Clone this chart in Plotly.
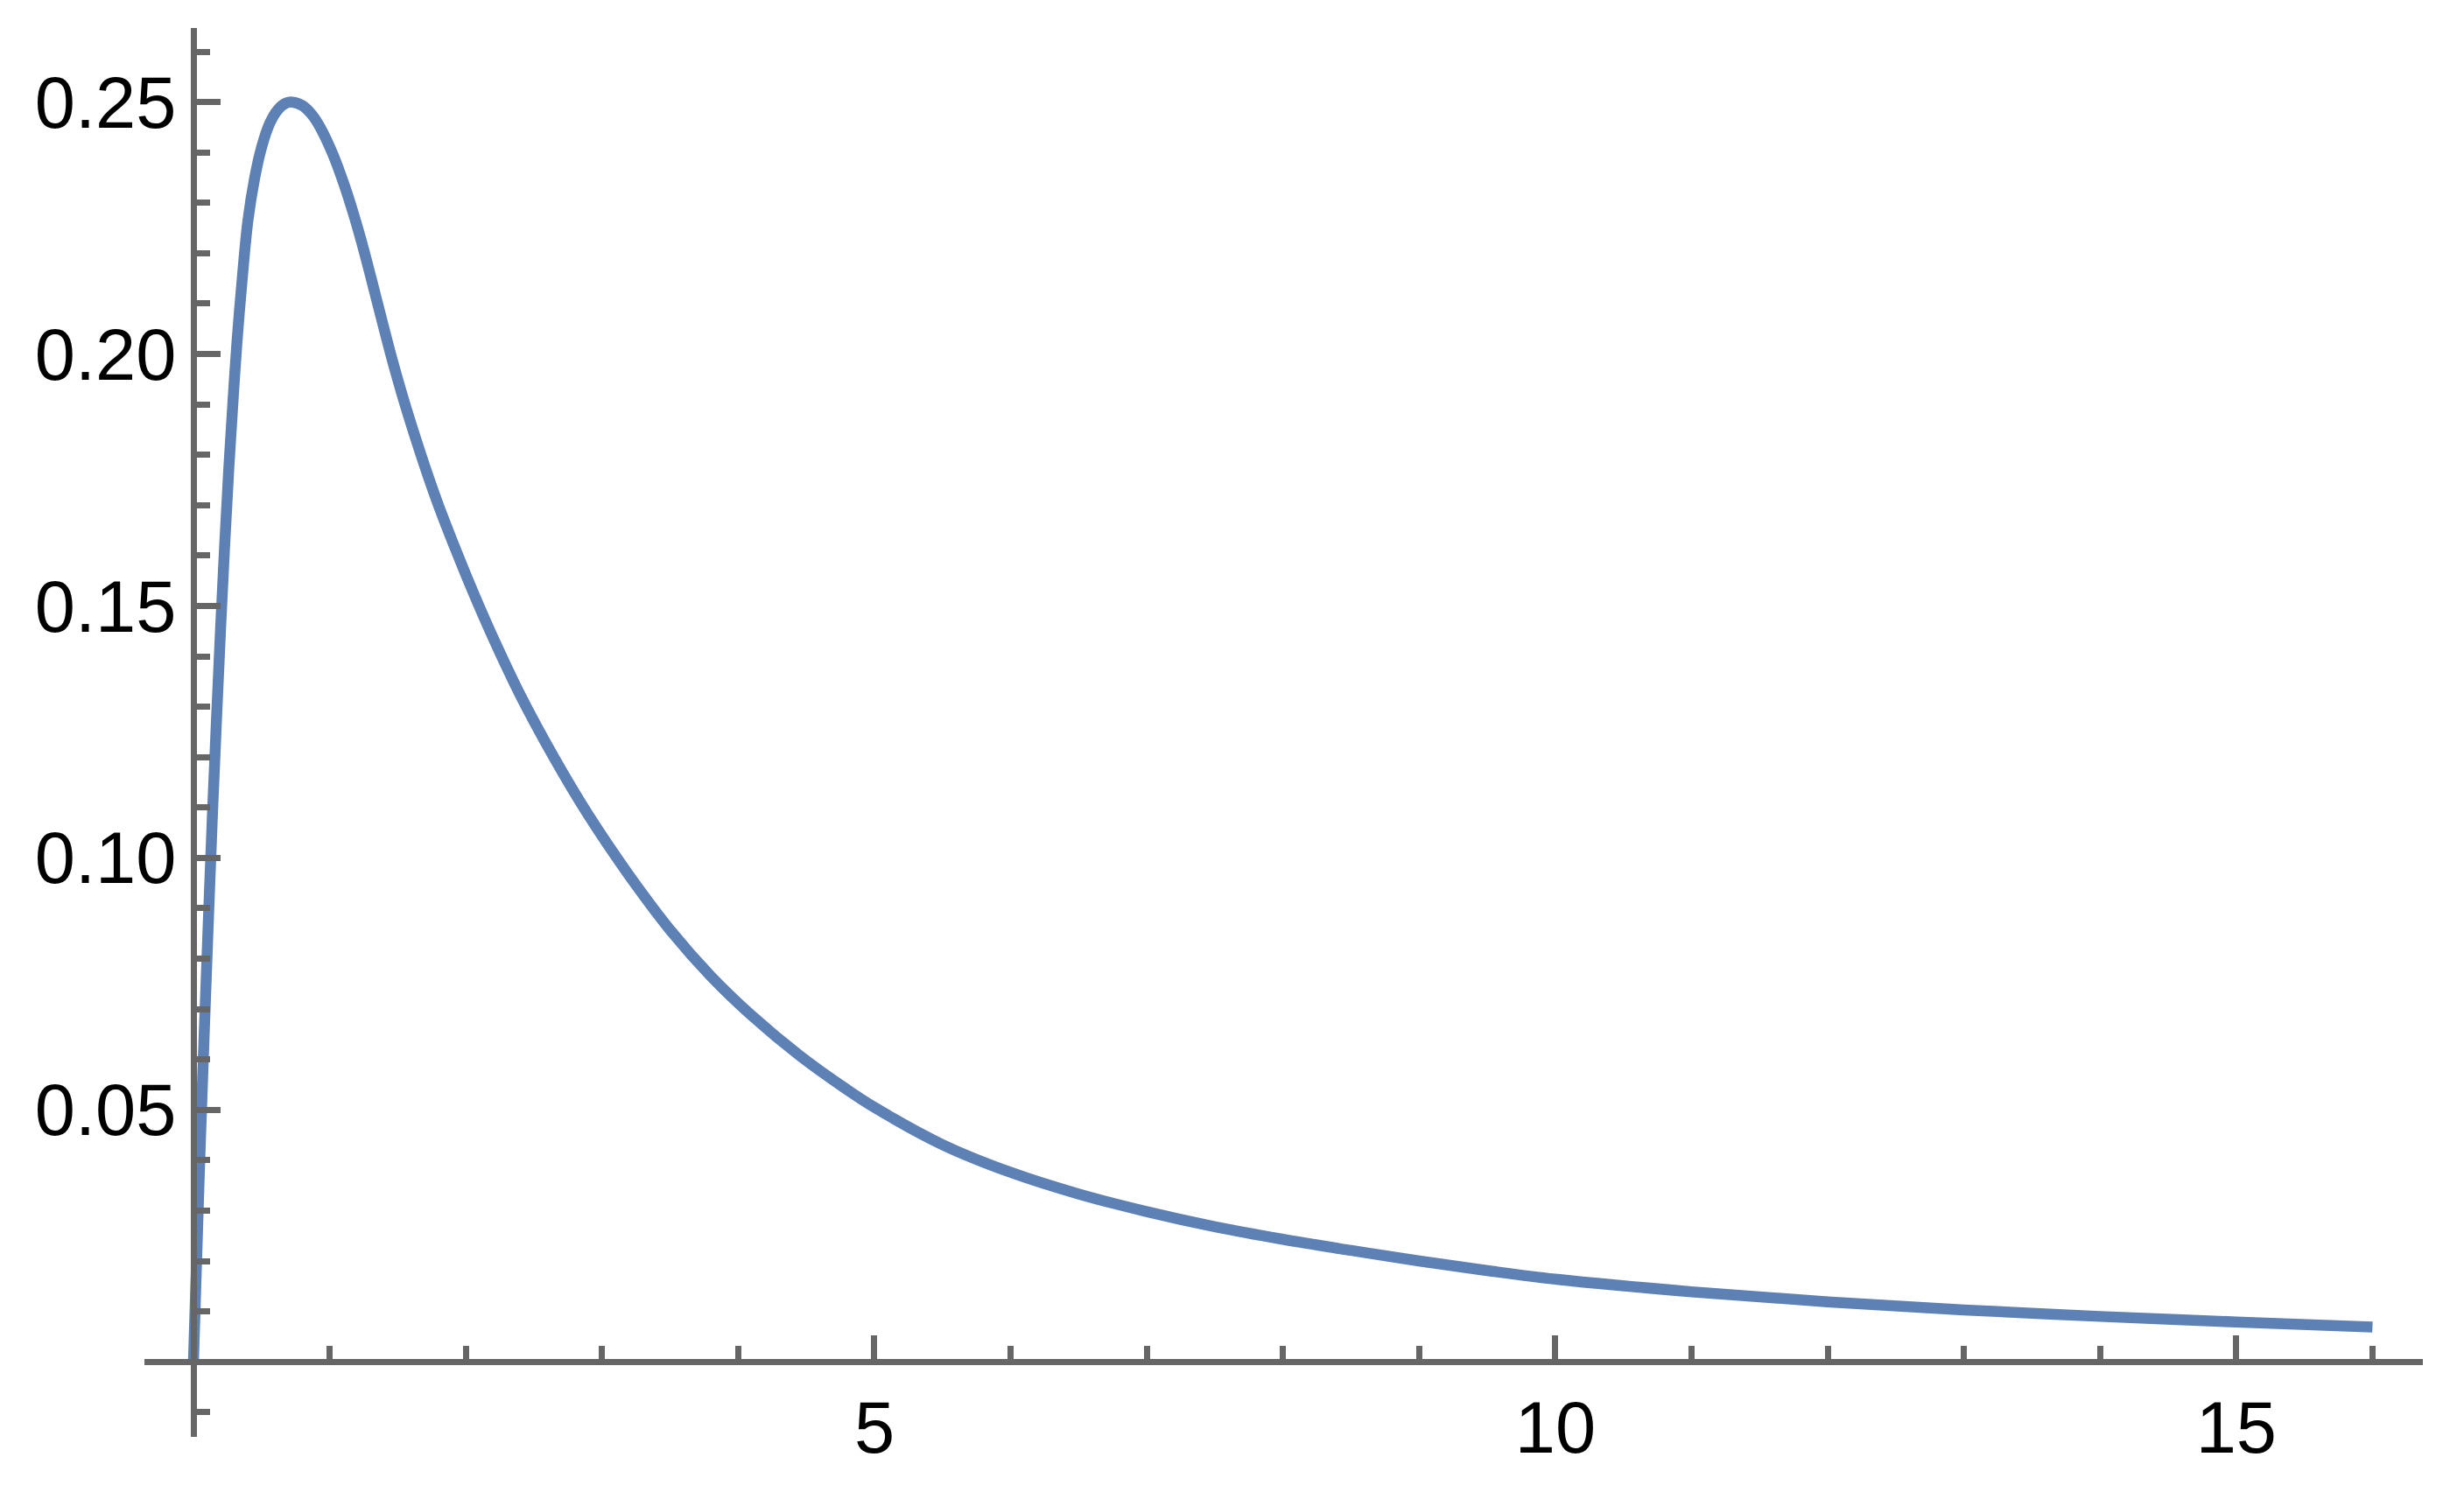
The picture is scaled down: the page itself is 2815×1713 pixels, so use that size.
import plotly.graph_objects as go

# curve (rising part, peak, long tail)
x_vals = [0, 0.02, 0.05, 0.08, 0.11, 0.14, 0.17, 0.20, 0.23, 0.26,
          0.29, 0.32, 0.36, 0.40, 0.45, 0.50, 0.56, 0.62, 0.68, 0.726,
          0.80, 0.873, 0.932, 1.026, 1.108, 1.172, 1.232, 1.29, 1.343,
          1.399, 1.459, 1.525, 1.59, 1.7, 1.8, 1.9, 2.0, 2.1, 2.2,
          2.4, 2.65, 2.9, 3.2, 3.5, 3.8, 4.1, 4.45, 4.8, 5.0,
          5.5, 6.0, 6.5, 7.0, 7.5, 8.0, 8.5, 9.0, 9.5, 10,
          11, 12, 13, 14, 15, 16]
y_vals = [0, 0.0175, 0.043, 0.066, 0.088, 0.109, 0.128, 0.146, 0.1625, 0.1775,
          0.1905, 0.2025, 0.2155, 0.2265, 0.2350, 0.2410, 0.2458, 0.2485, 0.2498, 0.2500,
          0.2493, 0.2474, 0.2449, 0.2395, 0.2335, 0.2281, 0.2225, 0.2166, 0.2110,
          0.2051, 0.1989, 0.1926, 0.1868, 0.1776, 0.1699, 0.1629, 0.1562, 0.1498, 0.1437,
          0.1323, 0.1198, 0.1085, 0.0965, 0.0857, 0.0765, 0.0687, 0.0608, 0.0540, 0.0505,
          0.0431, 0.0376, 0.0333, 0.0298, 0.0268, 0.0243, 0.0221, 0.0200, 0.0181, 0.0164,
          0.0139, 0.0119, 0.0103, 0.0090, 0.0079, 0.0069]

# ticks
x_ticks = [5, 10, 15]
x_labels = ["5", "10", "15"]
y_ticks = [0.05, 0.10, 0.15, 0.20, 0.25]
y_labels = ["0.05", "0.10", "0.15", "0.20", "0.25"]

x_range = [-0.36, 16.37]
y_range = [-0.0149, 0.2647]

axis_col = "#666666"
line_col = "#5E81B5"

# axes cross at the origin like in mathematica
x_pos = (0 - y_range[0]) / (y_range[1] - y_range[0])
y_pos = (0 - x_range[0]) / (x_range[1] - x_range[0])

fig = go.Figure()
fig.add_trace(go.Scatter(x=x_vals, y=y_vals, mode="lines",
                         line=dict(color=line_col, width=12.5, shape="spline", smoothing=1.0),
                         showlegend=False, hoverinfo="skip"))

tick_font = dict(family="Liberation Sans, Arial, sans-serif", size=83, color="black")

fig.update_layout(
    width=2815, height=1713,
    margin=dict(l=165, r=47, t=32, b=71),
    plot_bgcolor="white", paper_bgcolor="white",
    xaxis=dict(range=x_range, anchor="free", position=x_pos,
               showline=True, linecolor=axis_col, linewidth=7,
               showgrid=False, zeroline=False,
               tickmode="array", tickvals=x_ticks, ticktext=x_labels,
               ticks="inside", ticklen=27, tickwidth=7, tickcolor=axis_col,
               minor=dict(ticks="inside", tick0=0, dtick=1, ticklen=15,
                          tickwidth=7, tickcolor=axis_col, showgrid=False),
               tickfont=tick_font, automargin=False),
    yaxis=dict(range=y_range, anchor="free", position=y_pos,
               showline=True, linecolor=axis_col, linewidth=7,
               showgrid=False, zeroline=False,
               tickmode="array", tickvals=y_ticks, ticktext=y_labels,
               ticks="inside", ticklen=27, tickwidth=7, tickcolor=axis_col,
               minor=dict(ticks="inside", tick0=0, dtick=0.01, ticklen=15,
                          tickwidth=7, tickcolor=axis_col, showgrid=False),
               tickfont=tick_font, automargin=False),
)

fig.write_html("out.html", post_script="document.body.style.margin='0px';",
               config={"displayModeBar": False})
